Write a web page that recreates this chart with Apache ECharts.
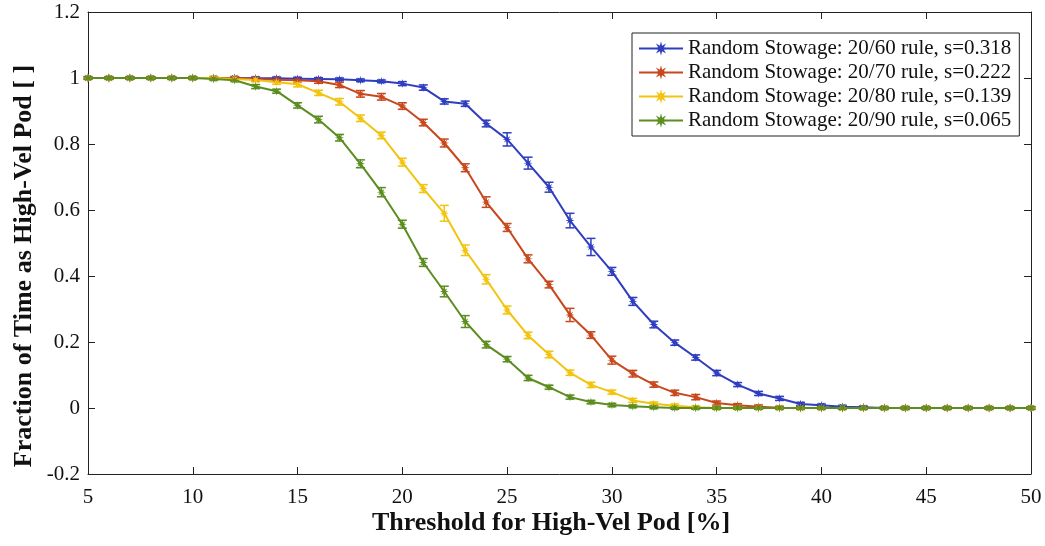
<!DOCTYPE html>
<html>
<head>
<meta charset="utf-8">
<script src="https://cdn.jsdelivr.net/npm/echarts@6/dist/echarts.min.js"></script>
<style>
html,body{margin:0;padding:0;background:#fff;}
#chart{width:1045px;height:546px;}
</style>
</head>
<body>
<div id="chart"></div>
<script>
// Thresholds (x values)
const thresholds = [5,6,7,8,9,10,11,12,13,14,15,16,17,18,19,20,21,22,23,24,25,26,27,28,29,30,31,32,33,34,35,36,37,38,39,40,41,42,43,44,45,46,47,48,49,50];

const seriesNames = [
  'Random Stowage: 20/60 rule, s=0.318',
  'Random Stowage: 20/70 rule, s=0.222',
  'Random Stowage: 20/80 rule, s=0.139',
  'Random Stowage: 20/90 rule, s=0.065'
];

const rule60 = [1,1,1,1,1,1,1,1,
  0.999,0.999,0.998,0.997,0.996,0.993,0.99,
  0.983,0.971,0.929,0.922,0.862,0.814,0.742,0.669,0.568,0.488,
  0.414,0.323,0.253,0.198,0.153,0.106,0.071,0.044,0.029,0.012,
  0.008,0.004,0.002,0,0,0,0,0,0,0,0];
const rule70 = [1,1,1,1,1,1,1,1,
  0.997,0.995,0.993,0.99,0.979,0.952,0.943,
  0.915,0.865,0.803,0.728,0.624,0.547,0.452,0.374,0.282,0.221,
  0.145,0.104,0.071,0.046,0.033,0.015,0.008,0.004,0.001,0,
  0,0,0,0,0,0,0,0,0,0,0];
const rule80 = [1,1,1,1,1,1,1,0.997,
  0.994,0.987,0.981,0.955,0.928,0.878,0.826,
  0.745,0.665,0.590,0.478,0.390,0.297,0.220,0.162,0.107,0.070,
  0.048,0.023,0.013,0.007,0.002,0,0,0,0,0,
  0,0,0,0,0,0,0,0,0,0,0];
const rule90 = [1,1,1,1,1,1,0.997,0.993,
  0.974,0.960,0.917,0.874,0.819,0.740,0.654,
  0.557,0.441,0.353,0.262,0.192,0.148,0.091,0.063,0.033,0.018,
  0.009,0.005,0.002,0,0,0,0,0,0,0,
  0,0,0,0,0,0,0,0,0,0,0];

// Half-widths of the error bars
const err60 = [0.004,0.004,0.004,0.004,0.004,0.004,0.004,0.004,
  0.004,0.004,0.004,0.004,0.004,0.004,0.004,
  0.006,0.008,0.008,0.008,0.010,0.020,0.018,0.015,0.022,0.026,
  0.012,0.012,0.010,0.008,0.008,0.008,0.006,0.006,0.006,0.005,
  0.004,0.004,0.004,0.004,0.004,0.004,0.004,0.004,0.004,0.004,0.004];
const err70 = [0.004,0.004,0.004,0.004,0.004,0.004,0.004,0.004,
  0.005,0.005,0.005,0.006,0.008,0.010,0.010,
  0.010,0.010,0.012,0.012,0.016,0.012,0.012,0.010,0.020,0.010,
  0.012,0.010,0.008,0.008,0.008,0.006,0.005,0.005,0.004,0.004,
  0.004,0.004,0.004,0.004,0.004,0.004,0.004,0.004,0.004,0.004,0.004];
const err80 = [0.004,0.004,0.004,0.004,0.004,0.004,0.004,0.004,
  0.005,0.006,0.008,0.008,0.010,0.010,0.010,
  0.012,0.012,0.024,0.016,0.014,0.012,0.010,0.010,0.008,0.008,
  0.006,0.006,0.005,0.005,0.004,0.004,0.004,0.004,0.004,0.004,
  0.004,0.004,0.004,0.004,0.004,0.004,0.004,0.004,0.004,0.004,0.004];
const err90 = [0.004,0.004,0.004,0.004,0.004,0.004,0.004,0.004,
  0.006,0.006,0.008,0.010,0.010,0.012,0.014,
  0.012,0.012,0.016,0.018,0.010,0.008,0.008,0.006,0.006,0.005,
  0.005,0.004,0.004,0.004,0.004,0.004,0.004,0.004,0.004,0.004,
  0.004,0.004,0.004,0.004,0.004,0.004,0.004,0.004,0.004,0.004,0.004];

const xTickLabels = ['5','10','15','20','25','30','35','40','45','50'];
const yTickLabels = ['-0.2','0','0.2','0.4','0.6','0.8','1','1.2'];

const xTitle = 'Threshold for High-Vel Pod [%]';
const yTitle = 'Fraction of Time as High-Vel Pod [ ]';

const colors = ['#2f3ec0', '#c8471d', '#f2c40f', '#5b8d1f'];
const values = [rule60, rule70, rule80, rule90];
const errors = [err60, err70, err80, err90];

const starPath = 'path://M10 0 L11.53 6.3 L17.07 2.93 L13.7 8.47 L20 10 L13.7 11.53 L17.07 17.07 L11.53 13.7 L10 20 L8.47 13.7 L2.93 17.07 L6.3 11.53 L0 10 L6.3 8.47 L2.93 2.93 L8.47 6.3 Z';

const serif = '"Liberation Serif", "DejaVu Serif", serif';

const series = [];
values.forEach((vals, i) => {
  const color = colors[i];
  series.push({
    type: 'custom',
    name: 'err' + i,
    silent: true,
    data: thresholds.map((x, k) => [x, vals[k], errors[i][k]]),
    encode: {x: 0, y: 1},
    renderItem: function (params, api) {
      const x = api.value(0), y = api.value(1), e = api.value(2);
      const t = api.coord([x, y + e]);
      const b = api.coord([x, y - e]);
      const cw = 4.5;
      const st = {stroke: color, lineWidth: 1.5};
      return {
        type: 'group',
        children: [
          {type: 'line', shape: {x1: t[0], y1: t[1], x2: b[0], y2: b[1]}, style: st},
          {type: 'line', shape: {x1: t[0] - cw, y1: t[1], x2: t[0] + cw, y2: t[1]}, style: st},
          {type: 'line', shape: {x1: b[0] - cw, y1: b[1], x2: b[0] + cw, y2: b[1]}, style: st}
        ]
      };
    }
  });
  series.push({
    type: 'line',
    name: seriesNames[i],
    data: thresholds.map((x, k) => [x, vals[k]]),
    symbol: starPath,
    symbolSize: 9,
    showSymbol: true,
    lineStyle: {color: color, width: 2},
    itemStyle: {color: color},
    emphasis: {disabled: true}
  });
});

const chart = echarts.init(document.getElementById('chart'), null, {renderer: 'canvas'});
const axisLine = {show: true, onZero: false, lineStyle: {color: '#222', width: 1}};
const tick = {show: true, inside: true, length: 7, lineStyle: {color: '#222'}};
chart.setOption({
  animation: false,
  backgroundColor: '#fff',
  grid: {left: 88, right: 14, top: 12, bottom: 72, containLabel: false},
  legend: {
    data: seriesNames,
    orient: 'vertical',
    left: 632,
    top: 33,
    itemWidth: 44,
    itemHeight: 18,
    itemGap: 3,
    padding: [5, 8, 5, 6],
    borderColor: '#222',
    borderWidth: 1,
    backgroundColor: '#fff',
    textStyle: {fontFamily: serif, fontSize: 21, lineHeight: 21, color: '#111'}
  },
  graphic: [{
    type: 'text',
    x: 551, y: 523,
    style: {
      text: xTitle, fontFamily: serif, fontSize: 26, fontWeight: 'bold',
      fill: '#111', align: 'center', verticalAlign: 'middle'
    }
  }, {
    type: 'text',
    x: 24, y: 266,
    rotation: Math.PI / 2,
    style: {
      text: yTitle, fontFamily: serif, fontSize: 26, fontWeight: 'bold',
      fill: '#111', align: 'center', verticalAlign: 'middle'
    }
  }],
  xAxis: [{
    type: 'value', min: 5, max: 50, interval: 5,
    axisLine: axisLine, axisTick: tick,
    splitLine: {show: false},
    axisLabel: {
      fontFamily: serif, fontSize: 21, color: '#111', margin: 13,
      formatter: v => xTickLabels.find(s => Number(s) === v) || ''
    }
  }, {
    type: 'value', min: 5, max: 50, interval: 5, position: 'top',
    axisLine: axisLine, axisTick: tick,
    axisLabel: {show: false}, splitLine: {show: false}
  }],
  yAxis: [{
    type: 'value', min: -0.2, max: 1.2, interval: 0.2,
    axisLine: axisLine, axisTick: tick,
    splitLine: {show: false},
    axisLabel: {
      fontFamily: serif, fontSize: 21, color: '#111', margin: 8,
      formatter: v => yTickLabels.find(s => Math.abs(Number(s) - v) < 1e-9) || ''
    }
  }, {
    type: 'value', min: -0.2, max: 1.2, interval: 0.2, position: 'right',
    axisLine: axisLine, axisTick: tick,
    axisLabel: {show: false}, splitLine: {show: false}
  }],
  series: series
});
</script>
</body>
</html>
